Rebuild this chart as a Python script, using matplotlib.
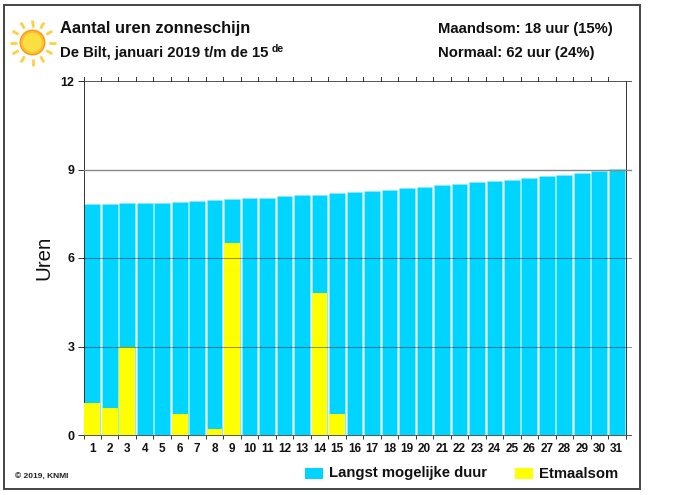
import matplotlib
matplotlib.use('Agg')
import matplotlib.pyplot as plt
import numpy as np
from matplotlib.patches import Circle, Rectangle

days = np.arange(1, 32)
# longest possible duration per day
max_duur = [7.82, 7.83, 7.85, 7.86, 7.88, 7.90, 7.93, 7.96, 7.99, 8.02,
            8.05, 8.09, 8.12, 8.15, 8.19, 8.23, 8.27, 8.31, 8.36, 8.41,
            8.46, 8.51, 8.56, 8.61, 8.66, 8.72, 8.78, 8.83, 8.89, 8.95, 9.01]
# daily sum of sunshine
etmaalsom = [1.1, 0.9, 3.0, 0, 0, 0.7, 0, 0.2, 6.5, 0, 0, 0, 0, 4.8, 0.7]
yticks = [0, 3, 6, 9, 12]

W, H = 700, 495
BLUE = '#00d5ff'
YELLOW = '#ffff00'
INK = '#111111'
plt.rcParams['font.family'] = ['Liberation Sans', 'DejaVu Sans']

fig = plt.figure(figsize=(W / 100, H / 100), dpi=100)

# whole figure in pixels, for frame, header and legend
bg = fig.add_axes([0, 0, 1, 1])
bg.set_xlim(0, W)
bg.set_ylim(H, 0)
bg.axis('off')
bg.add_patch(Rectangle((4, 5), 636, 484, fill=False, ec='#444444', lw=1.4))

# LEFT - BOTTOM - LENGTH - HEIGHT
ax = fig.add_axes([83.5 / W, 1 - 435 / H, 542 / W, 354 / H])
ax.patch.set_alpha(0)
ax.bar(days, max_duur, width=0.9, color=BLUE, ec='#90ecff', lw=0.4, zorder=2)
ax.bar(days[:len(etmaalsom)], etmaalsom, width=0.9, color=YELLOW, zorder=3)
ax.set_xlim(0.5, 31.5)
ax.set_ylim(0, 12)
ax.set_yticks(yticks)
ax.set_xticks(np.arange(0.5, 32, 1))
ax.set_xticklabels([])
for d in days:
    ax.text(d, -0.47, str(d), ha='center', va='center', fontsize=8.5, fontweight='bold', color=INK)
ax.tick_params(axis='x', length=3, width=0.7, color='#333333', direction='out')
ax.tick_params(axis='y', length=4.5, width=0.7, color='#333333', direction='out', labelsize=9, pad=2)
for lab in ax.get_yticklabels():
    lab.set_fontweight('bold')
    lab.set_color(INK)

# horizontal lines run a little past the right edge, and show through the bars
ax.plot([0.5, 31.83], [9, 9], color='#888888', lw=1.0, zorder=4, clip_on=False)
for v in [3, 6]:
    ax.plot([0.5, 31.83], [v, v], color='#000000', alpha=0.4, lw=0.8, zorder=4, clip_on=False)
ax.plot([0.5, 31.83], [12, 12], color='#555555', lw=0.7, clip_on=False)
ax.plot([0.5, 31.83], [0, 0], color='#555555', lw=0.7, clip_on=False, zorder=4)
for x in np.arange(0.5, 31.5, 1):
    ax.plot([x, x], [12, 12.12], color='#333333', lw=0.7, clip_on=False)
for s in ['top', 'bottom']:
    ax.spines[s].set_visible(False)
for s in ['left', 'right']:
    ax.spines[s].set_linewidth(0.7)
    ax.spines[s].set_color('#333333')

bg.text(43.5, 258, 'Uren', fontsize=14.7, rotation=90, ha='center', va='center', color=INK)

# sun
cx, cy = 32.5, 42.5
for a in np.arange(0, 360, 30):
    r = np.radians(a)
    bg.plot([cx + 16 * np.cos(r), cx + 23 * np.cos(r)],
            [cy + 16 * np.sin(r), cy + 23 * np.sin(r)], color='#ffd040', lw=2, solid_capstyle='butt')
bg.add_patch(Circle((cx, cy), 13, fc='#ff9a18', ec='none'))
bg.add_patch(Circle((cx, cy), 11.5, fc='#ffc030', ec='none'))
bg.add_patch(Circle((cx, cy), 9.5, fc='#f9e040', ec='none'))

bg.text(60, 29, 'Aantal uren zonneschijn', fontsize=11.9, fontweight='bold', va='center', color=INK)
bg.text(60, 53, 'De Bilt, januari 2019 t/m de 15', fontsize=10.7, fontweight='bold', va='center', color=INK)
bg.text(271.5, 48.5, 'de', fontsize=7.5, fontweight='bold', va='center', color=INK)
bg.text(438, 29, 'Maandsom: 18 uur (15%)', fontsize=10.7, fontweight='bold', va='center', color=INK)
bg.text(438, 53, 'Normaal: 62 uur (24%)', fontsize=10.7, fontweight='bold', va='center', color=INK)
bg.text(15, 477, '© 2019, KNMI', fontsize=6, fontweight='bold', va='center', color='#222222')

# legend
bg.add_patch(Rectangle((305, 468), 18, 11, fc=BLUE, ec='none'))
bg.text(329, 473.5, 'Langst mogelijke duur', fontsize=10.7, fontweight='bold', va='center', color=INK)
bg.add_patch(Rectangle((515, 468), 18, 11, fc=YELLOW, ec='none'))
bg.text(539, 473.5, 'Etmaalsom', fontsize=10.7, fontweight='bold', va='center', color=INK)

fig.savefig('out.png', dpi=100)
